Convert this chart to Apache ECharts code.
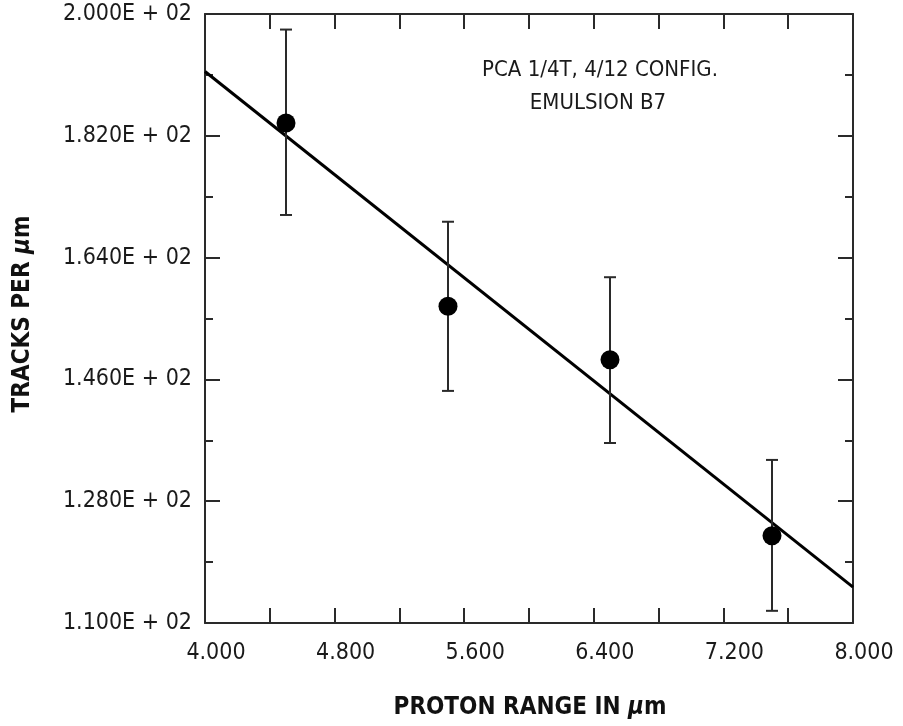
<!DOCTYPE html>
<html>
<head>
<meta charset="utf-8">
<script src="https://cdn.jsdelivr.net/npm/echarts@6/dist/echarts.min.js"></script>
<style>
html,body{margin:0;padding:0;background:#fff;}
#chart{width:903px;height:726px;}
</style>
</head>
<body>
<div id="chart"></div>
<script>
// Data
var rangeX = [4.5, 5.5, 6.5, 7.5];          // proton range (µm)
var tracks = [183.9, 156.8, 148.9, 122.9];  // tracks per µm
var errHigh = [197.7, 169.3, 161.1, 134.1];
var errLow = [170.3, 144.3, 136.6, 111.8];
var fitX = [4.0, 8.0];
var fitY = [191.5, 115.3];
var xTicks = {min: 4.0, max: 8.0, step: 0.8};
var yTicks = {min: 110, max: 200, step: 18};
var annotation = ['PCA 1/4T, 4/12 CONFIG.', 'EMULSION B7'];

var FONT = '"DejaVu Sans Condensed", "DejaVu Sans"';
var AX = '#2a2a2a';

var points = rangeX.map(function (x, i) { return [x, tracks[i]]; });
var bars = rangeX.map(function (x, i) { return [x, errLow[i], errHigh[i]]; });
var fit = fitX.map(function (x, i) { return [x, fitY[i]]; });

function xAxisDef(pos, showLabel) {
  return {
    type: 'value', position: pos, min: xTicks.min, max: xTicks.max, interval: xTicks.step,
    axisLine: {show: true, onZero: false, lineStyle: {color: AX, width: 2}},
    axisTick: {show: true, inside: true, length: 15, lineStyle: {color: AX, width: 2}},
    minorTick: {show: true, splitNumber: 2, length: 15, lineStyle: {color: AX, width: 2}},
    splitLine: {show: false},
    axisLabel: {show: showLabel, margin: 19, fontFamily: FONT, fontSize: 23, color: '#1a1a1a',
      padding: [0, 0, 0, 22],
      formatter: function (v) { return v.toFixed(3); }}
  };
}
function yAxisDef(pos, showLabel) {
  return {
    type: 'value', position: pos, min: yTicks.min, max: yTicks.max, interval: yTicks.step,
    axisLine: {show: true, onZero: false, lineStyle: {color: AX, width: 2}},
    axisTick: {show: true, inside: true, length: 15, lineStyle: {color: AX, width: 2}},
    minorTick: {show: true, splitNumber: 2, length: 8, lineStyle: {color: AX, width: 2}},
    splitLine: {show: false},
    axisLabel: {show: showLabel, margin: 13, fontFamily: FONT, fontSize: 23, color: '#1a1a1a',
      formatter: function (v) { return (v / 100).toFixed(3) + 'E + 02'; }}
  };
}

var chart = echarts.init(document.getElementById('chart'));
chart.setOption({
  animation: false,
  backgroundColor: '#ffffff',
  grid: {left: 205, right: 50, top: 14, bottom: 103},
  xAxis: [xAxisDef('bottom', true), xAxisDef('top', false)],
  yAxis: [yAxisDef('left', true), yAxisDef('right', false)],
  graphic: [
    {type: 'text', x: 530, y: 708, silent: true,
      style: {text: 'PROTON RANGE IN {i|μ}m', fill: '#111', fontFamily: FONT, fontWeight: 'bold', fontSize: 24,
        textAlign: 'center', textVerticalAlign: 'middle',
        rich: {i: {fontStyle: 'italic', fontWeight: 'bold', fontSize: 24, fontFamily: FONT, fill: '#111'}}}},
    {type: 'text', x: 23, y: 314, rotation: Math.PI / 2, silent: true,
      style: {text: 'TRACKS PER {i|μ}m', fill: '#111', fontFamily: FONT, fontWeight: 'bold', fontSize: 24,
        textAlign: 'center', textVerticalAlign: 'middle',
        rich: {i: {fontStyle: 'italic', fontWeight: 'bold', fontSize: 24, fontFamily: FONT, fill: '#111'}}}},
    {type: 'text', x: 600, y: 70, silent: true,
      style: {text: annotation[0], fill: '#1a1a1a', fontFamily: FONT, fontSize: 22, textAlign: 'center', textVerticalAlign: 'middle'}},
    {type: 'text', x: 598, y: 103, silent: true,
      style: {text: annotation[1], fill: '#1a1a1a', fontFamily: FONT, fontSize: 22, textAlign: 'center', textVerticalAlign: 'middle'}}
  ],
  series: [
    {type: 'line', data: fit, showSymbol: false, symbol: 'none',
      lineStyle: {color: '#000', width: 3}, z: 3},
    {type: 'custom', data: bars, z: 4,
      renderItem: function (params, api) {
        var x = api.value(0);
        var lo = api.coord([x, api.value(1)]);
        var hi = api.coord([x, api.value(2)]);
        var cap = 6;
        var st = {stroke: '#2a2a2a', lineWidth: 2};
        return {type: 'group', children: [
          {type: 'line', shape: {x1: lo[0], y1: lo[1], x2: hi[0], y2: hi[1]}, style: st},
          {type: 'line', shape: {x1: lo[0] - cap, y1: lo[1], x2: lo[0] + cap, y2: lo[1]}, style: st},
          {type: 'line', shape: {x1: hi[0] - cap, y1: hi[1], x2: hi[0] + cap, y2: hi[1]}, style: st}
        ]};
      }},
    {type: 'scatter', data: points, symbol: 'circle', symbolSize: 19,
      itemStyle: {color: '#000', opacity: 1}, z: 5}
  ]
});
</script>
</body>
</html>
